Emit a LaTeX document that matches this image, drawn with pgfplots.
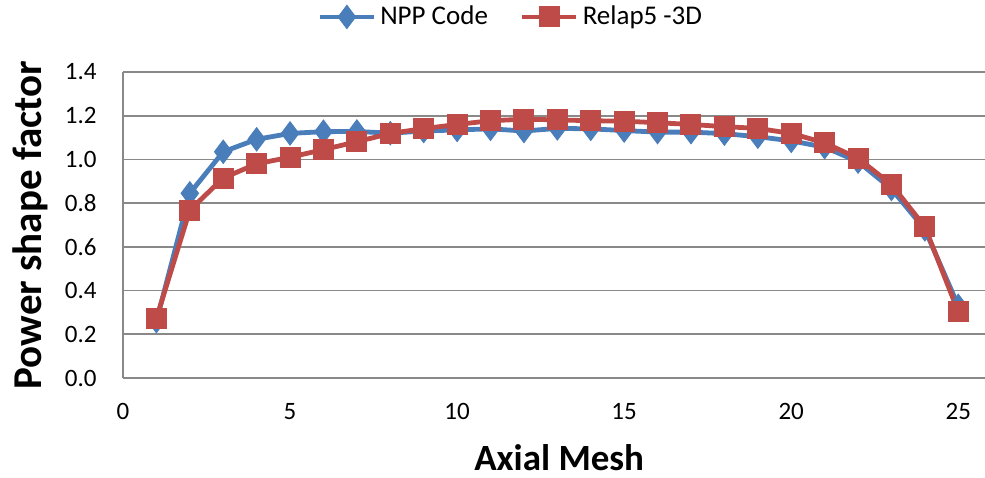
\documentclass[border=0pt]{standalone}
\usepackage{fontspec}
\setmainfont{Carlito}
\usepackage{pgfplots}
\pgfplotsset{compat=1.18}
\definecolor{nppblue}{HTML}{4A7EBB}
\definecolor{relred}{HTML}{BE4B48}
\definecolor{gridgray}{HTML}{898989}
\begin{document}
\begin{tikzpicture}
\begin{axis}[
  name=ax,
  scale only axis,
  width=431pt, height=153pt,
  xmin=0, xmax=25.8, ymin=0, ymax=1.4,
  axis line style={draw=none},
  major tick length=0pt,
  xtick={0,5,10,15,20,25},
  ytick={0,0.2,...,1.4},
  ymajorgrids,
  extra x ticks={0},
  extra x tick labels={},
  extra x tick style={xmajorgrids=true},
  grid style={gridgray, line width=0.8pt},
  /pgf/number format/assume math mode=true,
  every tick label/.append style={font=\fontsize{12.5}{13}\selectfont},
  every y tick label/.append style={/pgf/number format/fixed, /pgf/number format/fixed zerofill, /pgf/number format/precision=1, anchor=east, inner sep=0pt, xshift=-13pt},
  every x tick label/.append style={anchor=north, inner sep=0pt, yshift=-12.5pt},
  xlabel={\textbf{Axial Mesh}},
  ylabel={\textbf{Power shape factor}},
  xlabel style={font=\fontsize{18.5}{20}\selectfont, at={(axis description cs:0.506,0)}, anchor=base, inner sep=0pt, yshift=-46pt},
  ylabel style={font=\fontsize{20.5}{22}\selectfont, at={(axis description cs:-0.1079,0.5)}, anchor=center, inner sep=0pt},
  legend style={at={(axis description cs:0.451,1.18)}, anchor=center, draw=none, fill=none,
    font=\fontsize{13.5}{14}\selectfont, legend columns=2,
    /tikz/every even column/.append style={column sep=14pt}},
  legend image code/.code={
    \draw[#1, mark=none] (0pt,0pt) -- (27pt,0pt);
    \draw[#1, only marks] plot coordinates {(13.5pt,0pt)};
  },
  clip=false,
]
\addplot[nppblue, line width=2.4pt, mark=diamond*, mark size=5.8pt, mark options={solid, fill=nppblue, draw=nppblue, line width=0.5pt}] coordinates {
(1,0.26) (2,0.845) (3,1.035) (4,1.092) (5,1.119) (6,1.127) (7,1.128) (8,1.12)
(9,1.13) (10,1.135) (11,1.14) (12,1.13) (13,1.142) (14,1.14) (15,1.132) (16,1.125)
(17,1.125) (18,1.118) (19,1.104) (20,1.085) (21,1.056) (22,0.99) (23,0.865)
(24,0.68) (25,0.33)
};
\addlegendentry{NPP Code}
\addplot[relred, line width=2.4pt, mark=square*, mark size=5pt, mark options={solid, fill=relred, draw=relred, line width=0.5pt}] coordinates {
(1,0.273) (2,0.768) (3,0.915) (4,0.98) (5,1.01) (6,1.045) (7,1.081) (8,1.119)
(9,1.141) (10,1.16) (11,1.177) (12,1.184) (13,1.181) (14,1.177) (15,1.175) (16,1.168)
(17,1.16) (18,1.15) (19,1.142) (20,1.119) (21,1.076) (22,1.005) (23,0.885)
(24,0.692) (25,0.303)
};
\addlegendentry{Relap5 -3D}
\end{axis}
\pgfresetboundingbox
\path[use as bounding box] (-61.5pt,-49.5pt) rectangle (431pt,189pt);
\end{tikzpicture}
\end{document}
